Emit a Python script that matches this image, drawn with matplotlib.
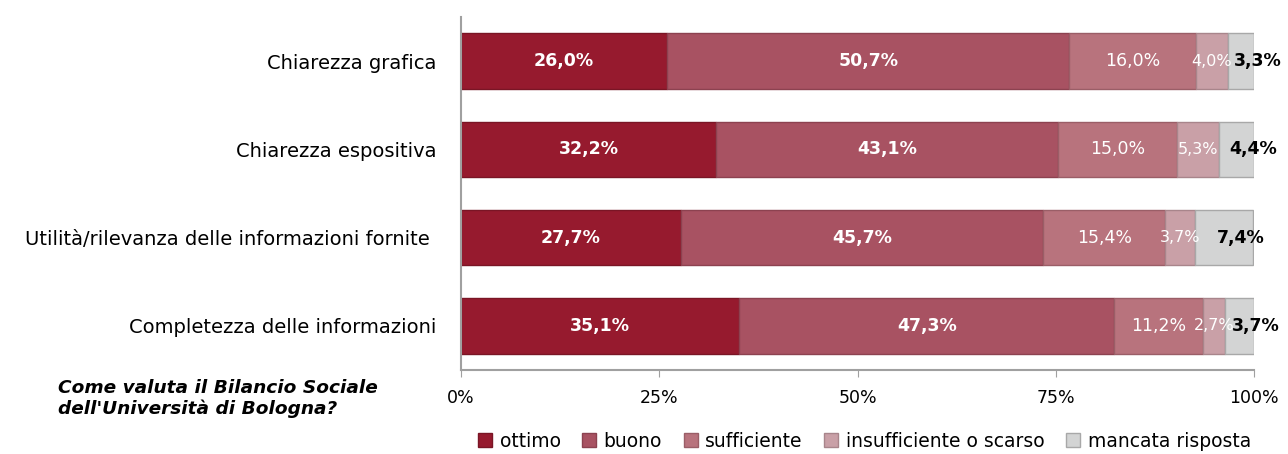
import numpy as np
import matplotlib.pyplot as plt

plt.rcParams['font.family'] = ['DejaVu Sans']

# Data
categories = ["Chiarezza grafica", "Chiarezza espositiva",
              "Utilità/rilevanza delle informazioni fornite ", "Completezza delle informazioni"]
series_names = ["ottimo", "buono", "sufficiente", "insufficiente o scarso", "mancata risposta"]
ottimo = [26.0, 32.2, 27.7, 35.1]
buono = [50.7, 43.1, 45.7, 47.3]
sufficiente = [16.0, 15.0, 15.4, 11.2]
insufficiente = [4.0, 5.3, 3.7, 2.7]
mancata = [3.3, 4.4, 7.4, 3.7]
tick_values = [0, 25, 50, 75, 100]
tick_labels = ["0%", "25%", "50%", "75%", "100%"]

series = [ottimo, buono, sufficiente, insufficiente, mancata]
colors = ["#961a2e", "#a85262", "#b8737d", "#c9a0a7", "#d3d4d4"]
edges = ["#7a1525", "#8c4250", "#9a5e67", "#a8858b", "#a8a8a8"]
txt_colors = ["white", "white", "white", "white", "black"]
txt_weights = ["bold", "bold", "normal", "normal", "bold"]
txt_sizes = [12.5, 12.5, 12.5, 11.5, 12.5]
txt_offsets = [0, 0, 0, 0, 12]

fig = plt.figure(figsize=(12.88, 4.54), dpi=100)
ax = fig.add_axes([0.358, 0.185, 0.6156, 0.7774])

y = np.arange(len(categories))
left = np.zeros(len(categories))
for i, vals in enumerate(series):
    vals = np.array(vals)
    ax.barh(y, vals, left=left, height=0.63, color=colors[i], edgecolor=edges[i],
            linewidth=1.0, label=series_names[i])
    for j, v in enumerate(vals):
        ax.annotate(f"{v:.1f}%".replace(".", ","), (left[j] + v / 2, y[j]),
                    xytext=(txt_offsets[i], 0), textcoords="offset points",
                    ha="center", va="center", color=txt_colors[i],
                    fontsize=txt_sizes[i], fontweight=txt_weights[i])
    left += vals

ax.set_xlim(0, 100)
ax.set_ylim(len(categories) - 0.5, -0.5)
ax.set_yticks(y)
ax.set_yticklabels(categories, fontsize=14)
ax.tick_params(axis="y", length=0, pad=18)
ax.set_xticks(tick_values)
ax.set_xticklabels(tick_labels, fontsize=12.5)
ax.tick_params(axis="x", length=5, color="#a0a0a0", pad=9)
for s in ["top", "right"]:
    ax.spines[s].set_visible(False)
for s in ["left", "bottom"]:
    ax.spines[s].set_color("#a0a0a0")
    ax.spines[s].set_linewidth(1.5)

fig.text(0.045, 0.122, "Come valuta il Bilancio Sociale\ndell'Università di Bologna?",
         fontsize=13.3, fontweight="bold", fontstyle="italic", va="center", ha="left",
         linespacing=1.15)

fig.legend(loc="lower left", bbox_to_anchor=(0.358, -0.03), ncol=5, frameon=False,
           fontsize=13.5, handlelength=0.75, handleheight=0.75, handletextpad=0.4,
           columnspacing=1.15)

fig.savefig("out.png", dpi=100)
